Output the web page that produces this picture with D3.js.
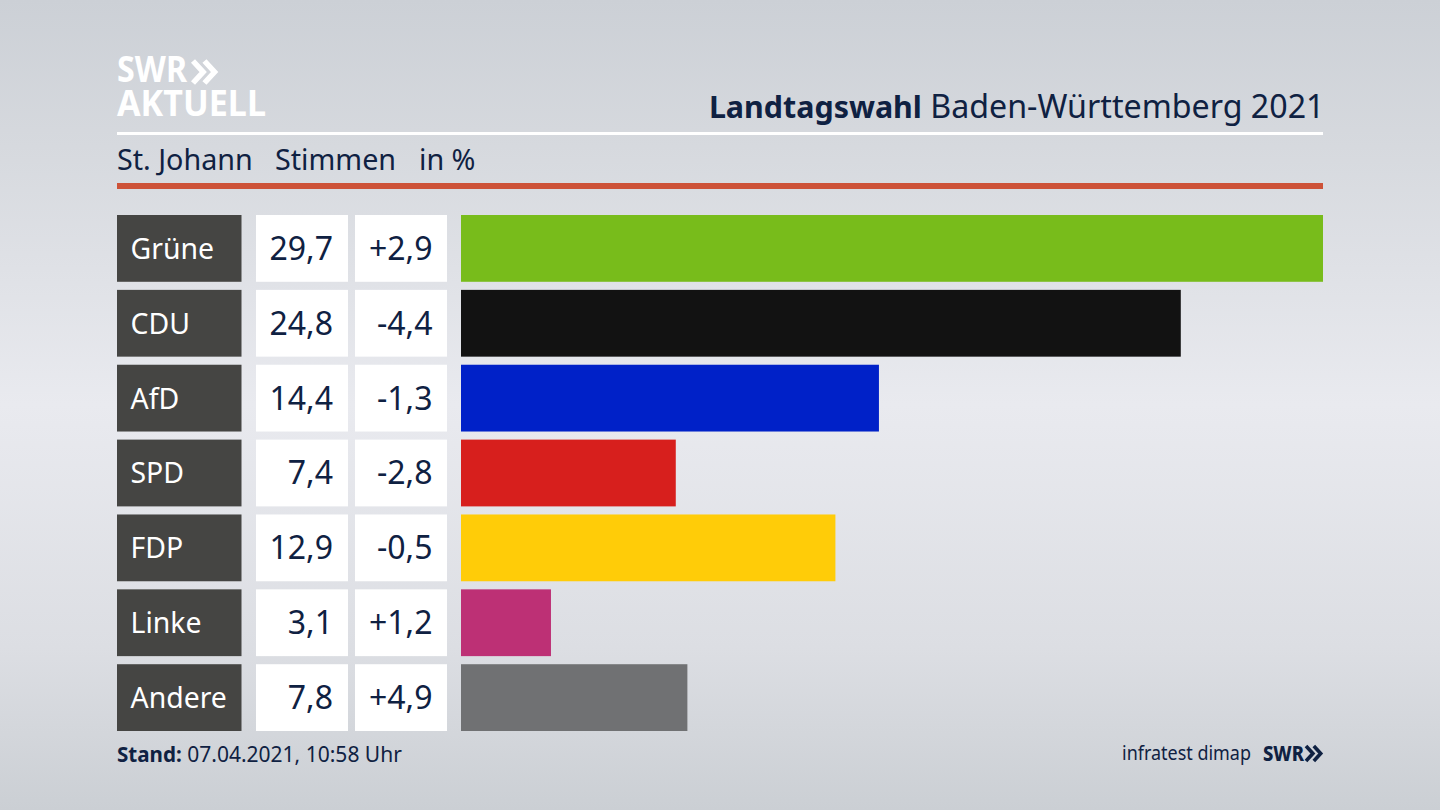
<!DOCTYPE html>
<html lang="de">
<head>
<meta charset="utf-8">
<script src="https://cdn.jsdelivr.net/npm/d3@7"></script>
<style>
html, body { margin: 0; padding: 0; background: #dfe1e6; }
svg { display: block; }
text { font-family: "Noto Sans", sans-serif; }
</style>
</head>
<body>
<svg id="chart"></svg>
<script>
const width = 1440;
const height = 810;

const parties = ['Grüne', 'CDU', 'AfD', 'SPD', 'FDP', 'Linke', 'Andere'];
const shares = [29.7, 24.8, 14.4, 7.4, 12.9, 3.1, 7.8];
const changes = ['+2,9', '-4,4', '-1,3', '-2,8', '-0,5', '+1,2', '+4,9'];
const barColors = ['#78bc1b', '#121212', '#0021c8', '#d71f1d', '#ffcc08', '#bd3075', '#707173'];

const navy = '#0f2142';
const fmt = v => v.toFixed(1).replace('.', ',');

const svg = d3.select('#chart')
    .attr('width', width)
    .attr('height', height)
    .attr('viewBox', `0 0 ${width} ${height}`);

// Background: light band through the middle, darker at the edges
const defs = svg.append('defs');
const bg = defs.append('linearGradient')
    .attr('id', 'bg')
    .attr('x1', 0).attr('y1', 0).attr('x2', 0).attr('y2', 1);
[[0, '#ccd0d6'], [0.18, '#d6d9de'], [0.5, '#e9eaef'], [0.8, '#dcdee3'], [1, '#cbcfd4']]
    .forEach(([o, c]) => bg.append('stop').attr('offset', o).attr('stop-color', c));

svg.append('rect')
    .attr('width', width)
    .attr('height', height)
    .attr('fill', 'url(#bg)');

// Scales
const x = d3.scaleLinear().domain([0, 29.7]).range([461, 1323]);
const y = d3.scaleBand().domain(parties).range([215, 731]).paddingInner(0.108);

const rows = svg.selectAll('.row')
    .data(parties.map((name, i) => ({
        name, share: shares[i], change: changes[i], color: barColors[i]
    })))
    .join('g')
    .attr('class', 'row')
    .attr('transform', d => `translate(0,${y(d.name)})`);

// Party label box
rows.append('rect')
    .attr('x', 117)
    .attr('width', 124.5)
    .attr('height', y.bandwidth())
    .attr('fill', '#454543');

rows.append('text')
    .attr('x', 130.5)
    .attr('y', y.bandwidth() / 2 + 10.5)
    .attr('font-size', 28.4)
    .attr('fill', '#fff')
    .text(d => d.name);

// Value boxes
rows.append('rect')
    .attr('x', 256)
    .attr('width', 92)
    .attr('height', y.bandwidth())
    .attr('fill', '#fff');

rows.append('text')
    .attr('x', 333)
    .attr('y', y.bandwidth() / 2 + 11.5)
    .attr('text-anchor', 'end')
    .attr('font-size', 32)
    .attr('fill', navy)
    .text(d => fmt(d.share));

rows.append('rect')
    .attr('x', 355)
    .attr('width', 92)
    .attr('height', y.bandwidth())
    .attr('fill', '#fff');

rows.append('text')
    .attr('x', 432.5)
    .attr('y', y.bandwidth() / 2 + 11.5)
    .attr('text-anchor', 'end')
    .attr('font-size', 32)
    .attr('fill', navy)
    .text(d => d.change);

// Bars
rows.append('rect')
    .attr('x', x(0))
    .attr('width', d => x(d.share) - x(0))
    .attr('height', y.bandwidth())
    .attr('fill', d => d.color);

// Header rules
svg.append('rect').attr('x', 117).attr('y', 132).attr('width', 1206).attr('height', 3).attr('fill', '#fff');
svg.append('rect').attr('x', 117).attr('y', 183).attr('width', 1206).attr('height', 6).attr('fill', '#cd5238');

// Title
const title = svg.append('text')
    .attr('x', 1324.5)
    .attr('y', 118)
    .attr('text-anchor', 'end')
    .attr('fill', navy);
title.append('tspan').attr('font-size', 30.4).attr('font-weight', 700).text('Landtagswahl');
title.append('tspan').attr('font-size', 32.2).text(' Baden-Württemberg 2021');

// Subtitle
[['St. Johann', 117], ['Stimmen', 275], ['in %', 419]].forEach(([t, px]) => {
    svg.append('text')
        .attr('x', px)
        .attr('y', 170)
        .attr('font-size', 28.7)
        .attr('fill', navy)
        .text(t);
});

// Logo, top left
const arrows = (g, px, py, s, color, sw) => {
    [0, 0.52].forEach(dx => {
        g.append('path')
            .attr('d', d3.line()([
                [px + dx * s, py],
                [px + (dx + 0.46) * s, py + s * 0.5],
                [px + dx * s, py + s]
            ]))
            .attr('fill', 'none')
            .attr('stroke', color)
            .attr('stroke-width', sw);
    });
};

const logo = svg.append('g');
logo.append('text')
    .attr('x', 117).attr('y', 82)
    .attr('font-size', 35).attr('font-weight', 700)
    .attr('textLength', 70).attr('lengthAdjust', 'spacingAndGlyphs')
    .attr('fill', '#fff')
    .text('SWR');
arrows(logo, 193, 61, 22, '#fff', 5.5);
logo.append('text')
    .attr('x', 117).attr('y', 116)
    .attr('font-size', 36).attr('font-weight', 700)
    .attr('textLength', 149).attr('lengthAdjust', 'spacingAndGlyphs')
    .attr('fill', '#fff')
    .text('AKTUELL');

// Footer
const stand = svg.append('text')
    .attr('x', 117)
    .attr('y', 762)
    .attr('fill', navy);
stand.append('tspan').attr('font-size', 20.6).attr('font-weight', 700).text('Stand:');
stand.append('tspan').attr('font-size', 21).text(' 07.04.2021, 10:58 Uhr');

svg.append('text')
    .attr('x', 1122)
    .attr('y', 760)
    .attr('font-size', 20)
    .attr('textLength', 129).attr('lengthAdjust', 'spacingAndGlyphs')
    .attr('fill', navy)
    .text('infratest dimap');

svg.append('text')
    .attr('x', 1263)
    .attr('y', 761)
    .attr('font-size', 21)
    .attr('font-weight', 800)
    .attr('textLength', 41).attr('lengthAdjust', 'spacingAndGlyphs')
    .attr('fill', navy)
    .text('SWR');
arrows(svg.append('g'), 1306, 746, 15, navy, 3.6);
</script>
</body>
</html>
